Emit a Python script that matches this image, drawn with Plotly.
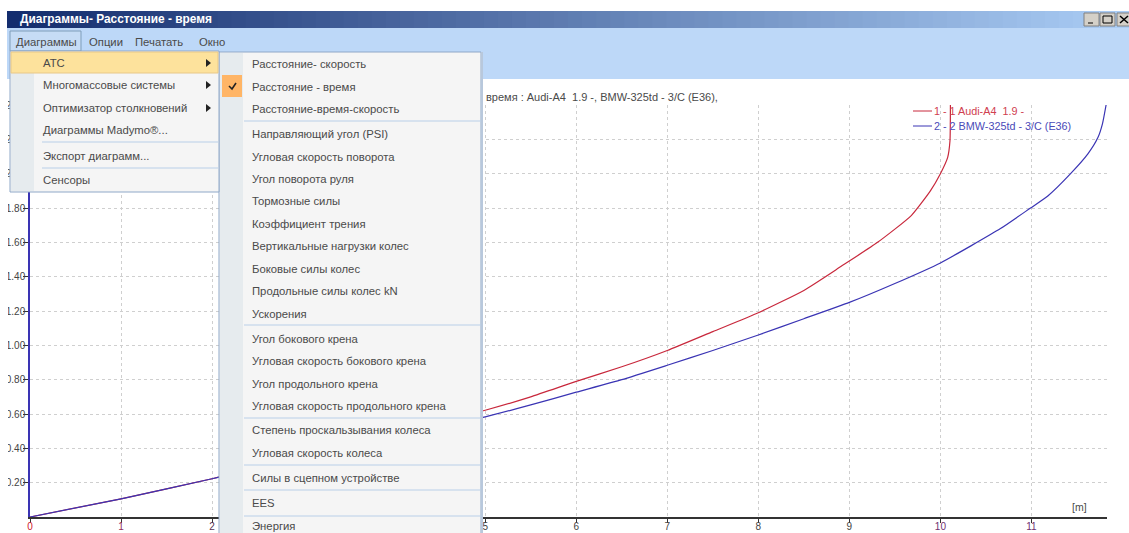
import plotly.graph_objects as go

# curves (x in m, y = time)
audi_x = [0, 1, 2, 2.1, 5, 5.5, 6, 6.5, 7, 7.5, 8, 8.5, 8.91, 9.31, 9.68, 9.89, 10.0, 10.08, 10.105, 10.11]
audi_y = [0, 0.106, 0.223, 0.235, 0.622, 0.70, 0.79, 0.875, 0.97, 1.08, 1.19, 1.32, 1.46, 1.60, 1.756, 1.90, 2.0, 2.095, 2.19, 2.40]
bmw_x = [0, 1, 2, 2.1, 5, 5.5, 6, 6.5, 7, 7.5, 8, 8.5, 9, 9.5, 10, 10.66, 10.99, 11.18, 11.43, 11.62, 11.73, 11.78, 11.82]
bmw_y = [0, 0.106, 0.223, 0.235, 0.583, 0.653, 0.727, 0.80, 0.884, 0.97, 1.06, 1.155, 1.25, 1.36, 1.48, 1.68, 1.80, 1.87, 2.0, 2.115, 2.21, 2.29, 2.40]

x_ticks = [0, 1, 2, 3, 4, 5, 6, 7, 8, 9, 10, 11]
x_colors = ["#d02030", "#903060", "#553355", "#444444", "#444444", "#444444", "#444444", "#444444", "#444444", "#444444", "#703070", "#703070"]
y_ticks = [0.2, 0.4, 0.6, 0.8, 1.0, 1.2, 1.4, 1.6, 1.8, 2.0, 2.2, 2.4]

first_menu = [("АТС", 63), ("Многомассовые системы", 85), ("Оптимизатор столкновений", 108),
              ("Диаграммы Madymo®...", 130), ("Экспорт диаграмм...", 156), ("Сенсоры", 180)]
first_seps = [142, 168]
first_arrows = [63, 85, 108]
second_menu = [("Расстояние- скорость", 64), ("Расстояние - время", 87), ("Расстояние-время-скорость", 109),
               ("Направляющий угол (PSI)", 134), ("Угловая скорость поворота", 157), ("Угол поворота руля", 179),
               ("Тормозные силы", 201), ("Коэффициент трения", 224), ("Вертикальные нагрузки колес", 246),
               ("Боковые силы колес", 269), ("Продольные силы колес kN", 291), ("Ускорения", 314),
               ("Угол бокового крена", 339), ("Угловая скорость бокового крена", 361), ("Угол продольного крена", 384),
               ("Угловая скорость продольного крена", 406), ("Степень проскальзывания колеса", 430),
               ("Угловая скорость колеса", 453), ("Силы в сцепном устройстве", 478), ("EES", 503), ("Энергия", 526)]
second_seps = [121, 325, 418, 465, 490, 516]
menu_bar = [("Диаграммы", 15), ("Опции", 88), ("Печатать", 134), ("Окно", 198)]
legend_names = ["1 - 1 Audi-A4\u00a0 1.9 -", "2 - 2 BMW-325td - 3/C (E36)"]

W, H = 1129, 533
L, R, T, B = 30, 22, 105, 16
AUDI_COLOR = "#c8283c"
BMW_COLOR = "#3a34b4"


def px(x):
    return (x - L) / (W - L - R)


def py(y):
    return 1 - (y - T) / (H - T - B)


def rect(x0, y0, x1, y1, fill, line=None):
    return dict(type="rect", xref="paper", yref="paper", x0=px(x0), x1=px(x1), y0=py(y0), y1=py(y1),
                fillcolor=fill, line=dict(color=line or fill, width=1 if line else 0))


def hline(x0, x1, y, color="#b9cfe8"):
    return dict(type="line", xref="paper", yref="paper", x0=px(x0), x1=px(x1), y0=py(y), y1=py(y),
                line=dict(color=color, width=1))


def label(text, x, y, size=11.3, color="#4a4a4a", anchor="left"):
    return dict(text=text, x=px(x), y=py(y), xref="paper", yref="paper", showarrow=False, xanchor=anchor,
                yanchor="middle", align="left", borderpad=0, font=dict(family="Liberation Sans", size=size, color=color))


fig = go.Figure()
fig.add_trace(go.Scatter(x=audi_x, y=audi_y, mode="lines", line=dict(color=AUDI_COLOR, width=1.2, shape="spline", smoothing=0.5), showlegend=False))
fig.add_trace(go.Scatter(x=bmw_x, y=bmw_y, mode="lines", line=dict(color=BMW_COLOR, width=1.2, shape="spline", smoothing=0.5), showlegend=False))

shapes = []
# window title bar, gradient done with strips
n = 80
for i in range(n):
    t = i / (n - 1)
    c = "rgb(%d,%d,%d)" % (20 + t * 150, 45 + t * 160, 110 + t * 135)
    shapes.append(rect(7 + i * (W - 7) / n, 11, 7 + (i + 1) * (W - 7) / n + 1, 28, c))
shapes.append(rect(7, 28, W, 79, "#bdd8f8"))
# window buttons
for x0 in [1084, 1100, 1117]:
    shapes.append(rect(x0, 13, x0 + 15, 26, "#d4d0c8", "#808080"))
shapes.append(hline(1088, 1093, 23, "#000000"))
shapes.append(rect(1103, 16, 1112, 23, "#d4d0c8", "#000000"))
shapes.append(dict(type="path", xref="paper", yref="paper", line=dict(color="#000000", width=1.5),
                   path="M %f %f L %f %f M %f %f L %f %f" % (px(1120), py(16), px(1128), py(23), px(1128), py(16), px(1120), py(23))))
# clip of the tick labels on the left edge
shapes.append(rect(0, 79, 8, H, "#ffffff"))
# "Диаграммы" tab and first menu
shapes.append(rect(10, 31, 81, 51, "#c6dcf5", "#7f9db9"))
shapes.append(rect(219, 52, 481, H + 2, "#f5f5f5", "#8fa8c8"))
shapes.append(rect(220, 53, 243, H + 2, "#e6ebee"))
shapes.append(rect(481, 52, 483, H + 2, "#b8c8dc"))
shapes.append(rect(222, 75, 242, 97, "#ffb566"))
shapes.append(dict(type="path", xref="paper", yref="paper",
                   path="M %f %f L %f %f L %f %f" % (px(229), py(86), px(232), py(89), px(236), py(83)),
                   line=dict(color="#222222", width=1.6)))
for y in second_seps:
    shapes.append(hline(244, 481, y))
shapes.append(rect(10, 51, 219, 192, "#f5f5f5", "#8fa8c8"))
shapes.append(rect(11, 52, 34, 191, "#e6ebee"))
shapes.append(rect(11, 52, 218, 73, "#fde29c", "#e8c888"))
for y in first_seps:
    shapes.append(hline(42, 218, y))
for y in first_arrows:
    shapes.append(dict(type="path", xref="paper", yref="paper", fillcolor="#222222", line=dict(width=0),
                       path="M %f %f L %f %f L %f %f Z" % (px(206), py(y - 4), px(211), py(y), px(206), py(y + 4))))
# legend samples
shapes.append(hline(913, 932, 111, AUDI_COLOR))
shapes.append(hline(913, 932, 126, BMW_COLOR))

annotations = [label("<b>Диаграммы- Расстояние - время</b>", 19, 19, size=11.9, color="#ffffff"),
               label("время : Audi-A4\u00a0 1.9 -, BMW-325td - 3/C (E36),", 485, 97, size=11),
               label("[m]", 1071, 507, size=10.5),
               label(legend_names[0], 933, 111, size=10.8, color="#d04050"),
               label(legend_names[1], 933, 126, size=10.8, color="#4a4ab8")]
for text, x in menu_bar:
    annotations.append(label(text, x, 42))
for text, y in first_menu:
    annotations.append(label(text, 42, y))
for text, y in second_menu:
    annotations.append(label(text, 251, y))

fig.update_layout(
    width=W, height=H,
    autosize=False,
    margin=dict(l=L, r=R, t=T, b=B, pad=0),
    paper_bgcolor="#ffffff",
    plot_bgcolor="#ffffff",
    font=dict(family="Liberation Sans", size=10, color="#444444"),
    shapes=shapes,
    annotations=annotations,
    showlegend=False,
    xaxis=dict(range=[0, 11.83], tickvals=x_ticks, automargin=False, ticklabelstandoff=-5,
               ticktext=["<span style='color:%s'>%d</span>" % (c, v) for v, c in zip(x_ticks, x_colors)],
               showgrid=True, griddash="3px,3px", gridcolor="#cfcfcf", gridwidth=1, zeroline=False,
               showline=True, linecolor="#333333", linewidth=1.5, ticks="outside", ticklen=4, tickcolor="#333333"),
    yaxis=dict(range=[0, 2.4], tickvals=y_ticks, ticktext=["%.2f" % v for v in y_ticks], automargin=False,
               showgrid=True, griddash="3px,3px", gridcolor="#cfcfcf", gridwidth=1, zeroline=False, ticklabelstandoff=-4,
               showline=True, linecolor=BMW_COLOR, linewidth=1.5, ticks="outside", ticklen=5, tickcolor="#333333"),
)

fig.write_html("out.html", config=dict(displayModeBar=False), post_script="document.body.style.margin='0';")
